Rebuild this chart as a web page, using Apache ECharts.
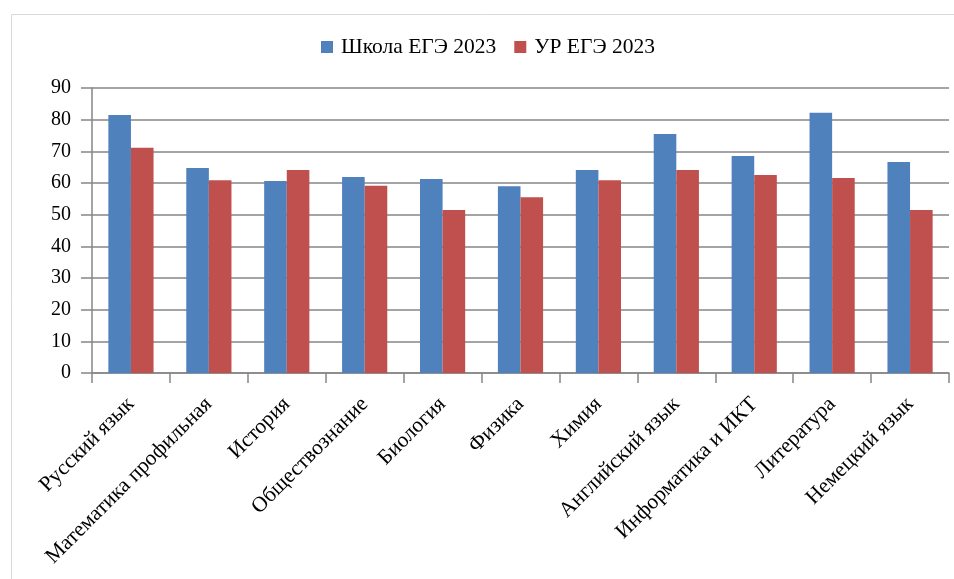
<!DOCTYPE html>
<html>
<head>
<meta charset="utf-8">
<script src="https://cdn.jsdelivr.net/npm/echarts@6/dist/echarts.min.js"></script>
<style>
html,body{margin:0;padding:0;background:#fff;}
#c{width:954px;height:579px;}
</style>
</head>
<body>
<div id="c"></div>
<script>
const categories = ["Русский язык","Математика профильная","История","Обществознание","Биология","Физика","Химия","Английский язык","Информатика и ИКТ","Литература","Немецкий язык"];
const schoolValues = [81.5, 64.7, 60.6, 61.9, 61.3, 59.0, 64.1, 75.5, 68.5, 82.2, 66.6];
const regionValues = [71.1, 60.9, 64.1, 59.1, 51.5, 55.5, 60.9, 64.1, 62.5, 61.6, 51.5];
const seriesNames = ["Школа ЕГЭ 2023", "УР ЕГЭ 2023"];
const yTicks = [0, 10, 20, 30, 40, 50, 60, 70, 80, 90];

const FONT = "'Liberation Serif','Times New Roman',serif";
const chart = echarts.init(document.getElementById('c'), null, {renderer: 'canvas'});
chart.setOption({
  animation: false,
  backgroundColor: '#fff',
  graphic: [{
    type: 'rect', left: 9, top: 12, z: -10,
    shape: {width: 1000, height: 600},
    style: {fill: 'none', stroke: '#d9d9d9', lineWidth: 1}
  }],
  legend: {
    top: 31, left: 316,
    itemWidth: 12, itemHeight: 12, itemGap: 18,
    icon: 'rect',
    textStyle: {fontFamily: FONT, fontSize: 21.5, color: '#000', padding: [0, 0, 0, 3]},
    data: seriesNames
  },
  grid: {left: 92, right: 5, top: 88, bottom: 206, containLabel: false},
  xAxis: {
    type: 'category',
    data: categories,
    axisLine: {lineStyle: {color: '#868686', width: 1.5}},
    axisTick: {show: true, length: 10, lineStyle: {color: '#868686', width: 1.5}, alignWithLabel: false},
    axisLabel: {rotate: 45, interval: 0, margin: 28, fontFamily: FONT, fontSize: 21.5, color: '#000'}
  },
  yAxis: {
    type: 'value',
    min: yTicks[0], max: yTicks[yTicks.length - 1], interval: 10,
    axisLine: {show: true, lineStyle: {color: '#868686', width: 1.5}},
    axisTick: {show: true, length: 11, lineStyle: {color: '#868686', width: 1.5}},
    splitLine: {show: true, lineStyle: {color: '#868686', width: 1.5}},
    axisLabel: {margin: 21, fontFamily: FONT, fontSize: 20, color: '#000'}
  },
  series: [
    {name: seriesNames[0], type: 'bar', data: schoolValues, itemStyle: {color: '#4F81BD'}, barGap: '0%', barCategoryGap: '42%'},
    {name: seriesNames[1], type: 'bar', data: regionValues, itemStyle: {color: '#C0504D'}, barGap: '0%', barCategoryGap: '42%'}
  ]
});
</script>
</body>
</html>
